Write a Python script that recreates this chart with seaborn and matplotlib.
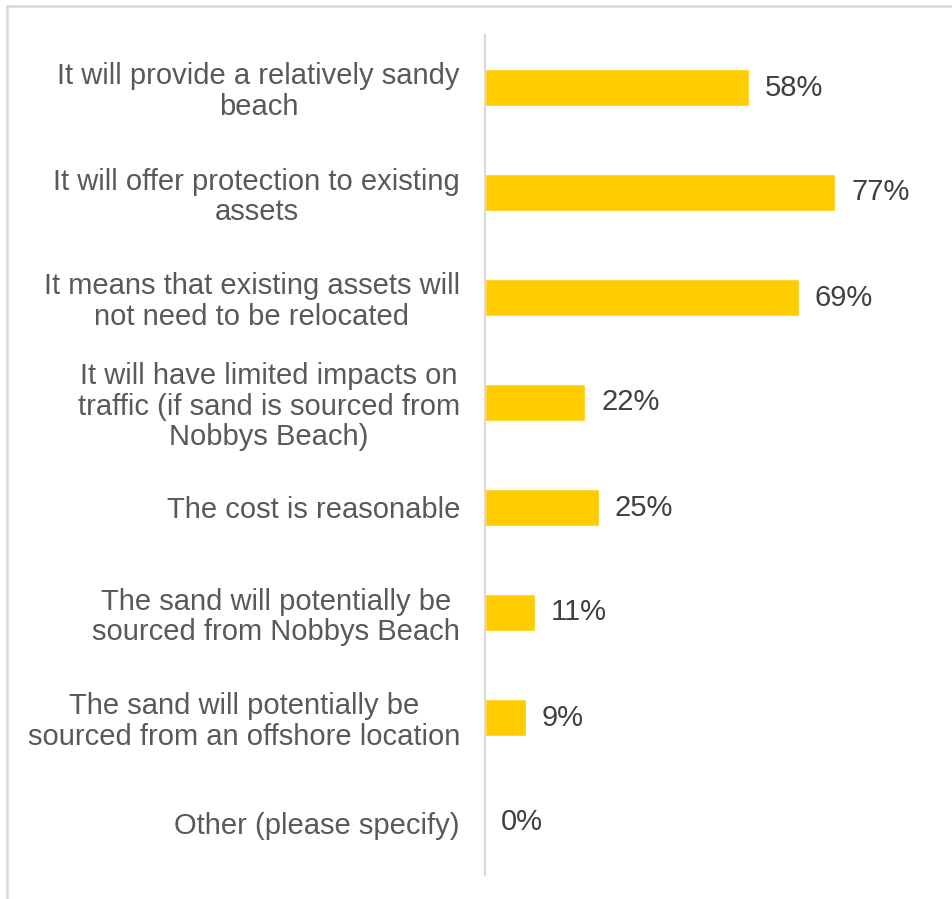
import matplotlib
matplotlib.use("Agg")
import matplotlib.pyplot as plt
import seaborn as sns
import pandas as pd
from matplotlib.lines import Line2D

raisons = [
    "It will provide a relatively sandy\nbeach",
    "It will offer protection to existing\nassets",
    "It means that existing assets will\nnot need to be relocated",
    "It will have limited impacts on\ntraffic (if sand is sourced from\nNobbys Beach)",
    "The cost is reasonable",
    "The sand will potentially be\nsourced from Nobbys Beach",
    "The sand will potentially be\nsourced from an offshore location",
    "Other (please specify)",
]
pourcentages = [58, 77, 69, 22, 25, 11, 9, 0]

df = pd.DataFrame({"raison": raisons, "pct": pourcentages})

sns.set_theme(style="white")
plt.rcParams["font.family"] = ["Liberation Sans", "DejaVu Sans"]

fig = plt.figure(figsize=(9.52, 8.99), dpi=100)
ax = fig.add_axes([485 / 952, 1 - 875 / 899, 455 / 952, 840 / 899])

sns.barplot(data=df, y="raison", x="pct", orient="h", color="#FFCC00",
            saturation=1, width=0.36, ax=ax)

for i, v in enumerate(pourcentages):
    ax.text(v + 3.5, i, f"{v}%", va="center", ha="left", fontsize=21, color="#404040")

ax.set_xlim(0, 100)
ax.set_ylim(7.5, -0.5)
ax.set_xlabel("")
ax.set_ylabel("")
ax.set_xticks([])
ax.tick_params(axis="y", length=0, pad=18)
for lbl in ax.get_yticklabels():
    lbl.set_fontsize(21)
    lbl.set_color("#595959")
    lbl.set_multialignment("center")
    lbl.set_linespacing(1.1)

for side in ["top", "right", "bottom"]:
    ax.spines[side].set_visible(False)
ax.spines["left"].set_color("#D9D9D9")
ax.spines["left"].set_linewidth(1.5)

# cadre partiel (haut et gauche)
fig.add_artist(Line2D([7 / 952, 7 / 952], [0, 1 - 6 / 899], transform=fig.transFigure,
                      color="#D9D9D9", linewidth=1.8))
fig.add_artist(Line2D([7 / 952, 1], [1 - 6 / 899, 1 - 6 / 899], transform=fig.transFigure,
                      color="#D9D9D9", linewidth=1.8))

fig.savefig("out.png", dpi=100)
